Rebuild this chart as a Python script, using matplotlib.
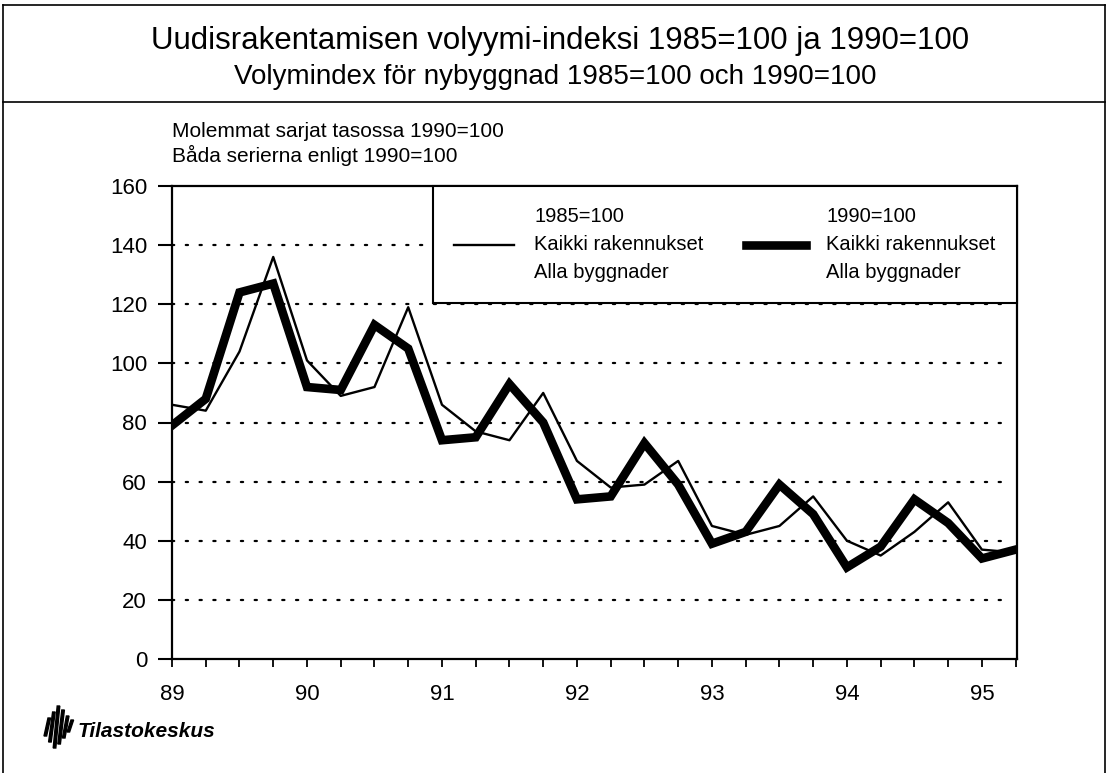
import matplotlib
matplotlib.use("Agg")
import matplotlib.pyplot as plt
from matplotlib.lines import Line2D
from matplotlib.patches import Polygon
from matplotlib.ticker import MultipleLocator, FixedLocator

# quarterly data, 1989 Q1 .. 1995 Q2
start_year = 89
index_1985 = [86, 84, 104, 136, 101, 89, 92, 119, 86, 77, 74, 90, 67, 58, 59, 67,
              45, 42, 45, 55, 40, 35, 43, 53, 37, 36]
index_1990 = [79, 88, 124, 127, 92, 91, 113, 105, 74, 75, 93, 80, 54, 55, 73, 59,
              39, 43, 59, 49, 31, 38, 54, 46, 34, 37]
year_ticks = [89, 90, 91, 92, 93, 94, 95]
year_labels = ["89", "90", "91", "92", "93", "94", "95"]
y_ticks = [0, 20, 40, 60, 80, 100, 120, 140, 160]

label_1985 = "1985=100\nKaikki rakennukset\nAlla byggnader"
label_1990 = "1990=100\nKaikki rakennukset\nAlla byggnader"

title_fi = "Uudisrakentamisen volyymi-indeksi 1985=100 ja 1990=100"
title_sv = "Volymindex för nybyggnad 1985=100 och 1990=100"
note_fi = "Molemmat sarjat tasossa 1990=100"
note_sv = "Båda serierna enligt 1990=100"

x = [start_year + 0.25 * i for i in range(len(index_1985))]

plt.rcParams['font.family'] = ['Liberation Sans', 'DejaVu Sans']

W, H = 1109, 773
fig = plt.figure(figsize=(W / 100, H / 100), dpi=100)
ax = fig.add_axes([172 / W, 1 - 659 / H, 845 / W, 473 / H])

ax.plot(x, index_1985, color="black", lw=1.7, label=label_1985, zorder=3)
ax.plot(x, index_1990, color="black", lw=6.2, label=label_1990, zorder=4,
        solid_joinstyle="miter")

ax.set_xlim(89, 95.26)
ax.set_ylim(0, 160)
ax.set_yticks(y_ticks)
ax.xaxis.set_major_locator(FixedLocator(year_ticks))
ax.set_xticklabels(year_labels)
ax.xaxis.set_minor_locator(MultipleLocator(0.25))
ax.tick_params(axis="x", which="both", direction="out", length=6, width=1.3,
               labelsize=16, pad=12)
ax.tick_params(axis="y", which="both", direction="out", length=10, width=1.5,
               labelsize=16, pad=8)
for s in ax.spines.values():
    s.set_linewidth(1.6)

for v in y_ticks[1:-1]:
    ax.axhline(v, color="black", lw=1.6, linestyle=(0, (1, 5.2)), zorder=1,
               dash_capstyle="round", xmax=0.99)

leg = ax.legend(loc="upper right", bbox_to_anchor=(1, 1), ncol=2, fontsize=14.5,
                frameon=True, fancybox=False, edgecolor="black", framealpha=1,
                borderaxespad=0, borderpad=1.05, handlelength=3.0,
                handletextpad=1.0, columnspacing=2.1)
leg.get_frame().set_linewidth(1.5)
leg.set_zorder(5)
for t in leg.get_texts():
    t.set_linespacing(1.6)

# header texts
fig.text(560 / W, 1 - 49 / H, title_fi, ha="center", va="baseline", fontsize=22.5)
fig.text(555 / W, 1 - 84 / H, title_sv, ha="center", va="baseline", fontsize=20)
fig.text(172 / W, 1 - 137 / H, note_fi, ha="left", va="baseline", fontsize=15)
fig.text(172 / W, 1 - 162 / H, note_sv, ha="left", va="baseline", fontsize=15)

# outer frame
for (x0, y0, x1, y1) in [(3, 5, 1105, 5), (3, 102, 1105, 102), (3, 5, 3, 773),
                         (1105, 5, 1105, 773)]:
    fig.add_artist(Line2D([x0 / W, x1 / W], [1 - y0 / H, 1 - y1 / H],
                          color="black", lw=1.2))

# logo: slanted bars + name
for i, (top, bot) in enumerate([(718, 736), (712, 742), (706, 748), (710, 744),
                                (716, 738), (720, 732)]):
    x0 = 44 + i * 4.6
    pts = [(x0, bot), (x0 + 2.6, bot), (x0 + 2.6 + 4, top), (x0 + 4, top)]
    fig.add_artist(Polygon([(px / W, 1 - py / H) for px, py in pts],
                           closed=True, color="black", transform=fig.transFigure))
fig.text(78 / W, 1 - 737 / H, "Tilastokeskus", ha="left", va="baseline",
         fontsize=15, style="italic", weight="bold")

fig.savefig("out.png", dpi=100)
